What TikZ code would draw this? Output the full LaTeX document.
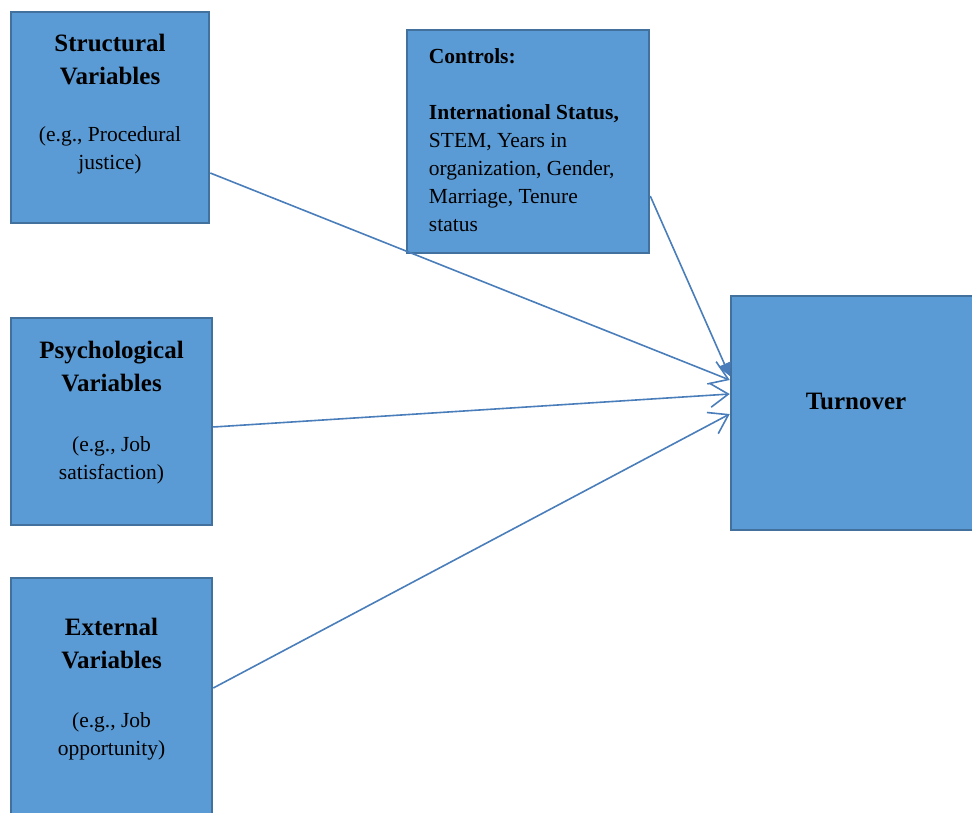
\documentclass[tikz,border=0pt]{standalone}
\usepackage{fontspec}
\setmainfont{Liberation Serif}
\usetikzlibrary{arrows.meta,positioning}
\definecolor{boxFill}{HTML}{5B9BD5}
\definecolor{boxLine}{HTML}{41719C}
\definecolor{arrowLine}{HTML}{4A7EBB}
\tikzset{%
  >={Straight Barb[length=18pt,width=24pt,line width=1.6pt]},
  % Specifications for style of nodes:
         varbox/.style = {rectangle, draw=boxLine, fill=boxFill,
                          line width=2.5pt, inner sep=0pt},
      titleText/.style = {align=center, inner sep=0pt,
                          font=\fontsize{25}{33}\selectfont\bfseries},
       bodyText/.style = {align=center, inner sep=0pt,
                          font=\fontsize{21.5}{28}\selectfont},
           link/.style = {->, draw=arrowLine, line width=1.6pt},
}
\begin{document}
\begin{tikzpicture}[x=1pt, y=1pt]
  \useasboundingbox (0,0) rectangle (972,-812);
  % Specification of boxes (position, size)
  \node (structural)    [varbox, minimum width=198, minimum height=211]
                        at (110,-117.5) {};
  \node (psychological) [varbox, minimum width=201, minimum height=207]
                        at (111.5,-421.5) {};
  \node (external)      [varbox, minimum width=201, minimum height=240]
                        at (111.5,-698) {};
  \node (controls)      [varbox, minimum width=242, minimum height=223]
                        at (528,-141.5) {};
  \node (turnover)      [varbox, minimum width=250, minimum height=234]
                        at (856,-413) {};

  % Texts inside the boxes
  \node (structuralTitle)    [titleText, below=23 of structural.north]
                             {Structural\\Variables};
  \node (structuralBody)     [bodyText, below=116 of structural.north]
                             {(e.g., Procedural\\justice)};
  \node (psychologicalTitle) [titleText, below=24 of psychological.north]
                             {Psychological\\Variables};
  \node (psychologicalBody)  [bodyText, below=120 of psychological.north]
                             {(e.g., Job\\satisfaction)};
  \node (externalTitle)      [titleText, below=41 of external.north]
                             {External\\Variables};
  \node (externalBody)       [bodyText, below=136 of external.north]
                             {(e.g., Job\\opportunity)};
  \node (controlsText)       [bodyText, align=left, anchor=north west]
                             at ([xshift=23, yshift=-20]controls.north west)
                             {\textbf{Controls:}\\[28pt]
                              \textbf{International Status,}\\
                              STEM, Years in\\organization, Gender,\\
                              Marriage, Tenure\\status};
  \node (turnoverTitle)      [titleText] at ([yshift=12]turnover.center)
                             {Turnover};

  % Specification of lines between boxes
  \draw[link] ([yshift=-55.5]structural.east)
              -- ([yshift=33]turnover.west);
  \draw[link] ([yshift=-5.5]psychological.east)
              -- ([yshift=19]turnover.west);
  \draw[link] ([yshift=10]external.east)
              -- ([yshift=-1]turnover.west);
  \draw[link, -{Triangle[length=13pt,width=13pt]}]
              ([yshift=-54.5]controls.east) -- ([yshift=37]turnover.west);
\end{tikzpicture}
\end{document}
